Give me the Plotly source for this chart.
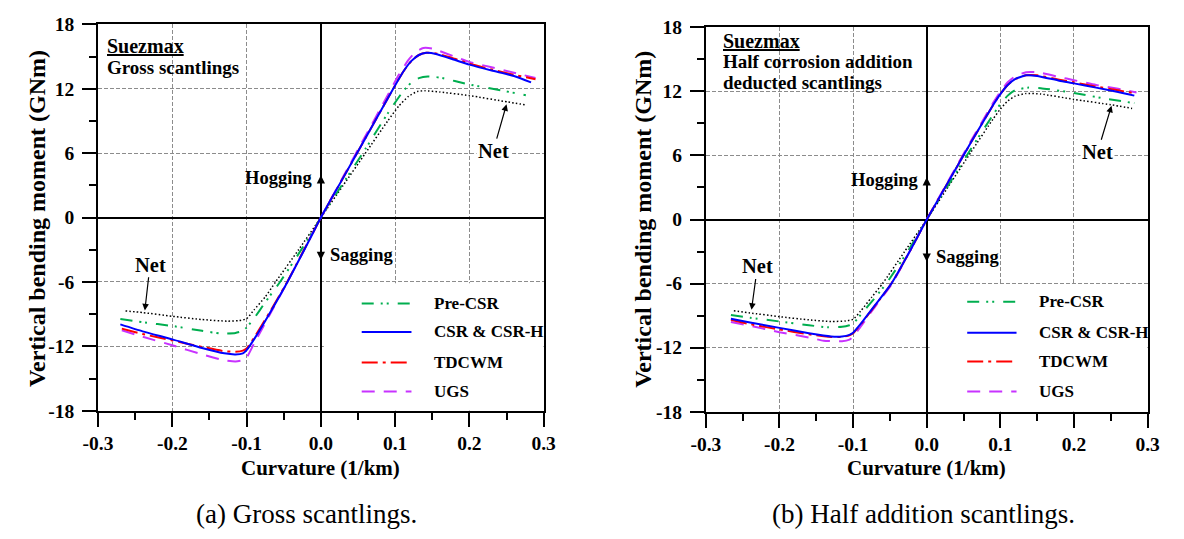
import plotly.graph_objects as go

# ---------------- axis ticks ----------------
x_ticks = [-0.3, -0.2, -0.1, 0.0, 0.1, 0.2, 0.3]
x_tick_labels = ["-0.3", "-0.2", "-0.1", "0.0", "0.1", "0.2", "0.3"]
y_ticks = [-18, -12, -6, 0, 6, 12, 18]
y_tick_labels = ["-18", "-12", "-6", "0", "6", "12", "18"]

series_names = ["Pre-CSR", "CSR & CSR-H", "TDCWM", "UGS"]

# ---------------- (a) gross scantlings: curvature (1/km) vs moment (GNm) ----------------
gross_precsr_k = [-0.270, -0.240, -0.200, -0.160, -0.135, -0.115, -0.105, -0.100, -0.090, -0.075, -0.055, -0.025,
                  0.000, 0.030, 0.060, 0.090, 0.110, 0.122, 0.132, 0.144, 0.160, 0.200, 0.243, 0.276]
gross_precsr_m = [-9.45, -9.75, -10.10, -10.55, -10.80, -10.75, -10.55, -10.25, -9.40, -7.90, -6.00, -2.85,
                  0.00, 3.20, 6.40, 9.70, 11.70, 12.60, 13.00, 13.15, 13.05, 12.40, 11.85, 11.40]

gross_csr_k = [-0.270, -0.240, -0.200, -0.160, -0.130, -0.115, -0.105, -0.100, -0.090, -0.070, -0.045, -0.020,
               0.000, 0.030, 0.060, 0.090, 0.110, 0.122, 0.132, 0.142, 0.155, 0.180, 0.200, 0.230, 0.260, 0.283]
gross_csr_m = [-9.95, -10.60, -11.35, -12.15, -12.65, -12.75, -12.65, -12.35, -11.35, -9.05, -6.00, -2.70,
               0.00, 3.70, 7.40, 11.10, 13.50, 14.60, 15.15, 15.35, 15.25, 14.70, 14.25, 13.70, 13.20, 12.60]

gross_tdcwm_k = [-0.268, -0.240, -0.200, -0.160, -0.130, -0.115, -0.105, -0.100, -0.090, -0.070, -0.045, -0.020,
                 0.000, 0.030, 0.060, 0.090, 0.110, 0.122, 0.132, 0.142, 0.155, 0.180, 0.200, 0.230, 0.260, 0.289]
gross_tdcwm_m = [-10.35, -10.85, -11.45, -12.05, -12.45, -12.50, -12.40, -12.20, -11.20, -8.95, -5.95, -2.65,
                 0.00, 3.70, 7.40, 11.10, 13.50, 14.60, 15.15, 15.35, 15.30, 14.80, 14.35, 13.80, 13.30, 12.90]

gross_ugs_k = [-0.268, -0.240, -0.200, -0.160, -0.130, -0.115, -0.105, -0.100, -0.090, -0.070, -0.045, -0.020,
               0.000, 0.030, 0.060, 0.090, 0.105, 0.118, 0.128, 0.138, 0.150, 0.180, 0.200, 0.230, 0.260, 0.289]
gross_ugs_m = [-10.50, -11.10, -11.90, -12.75, -13.30, -13.40, -13.30, -13.05, -11.75, -9.20, -6.00, -2.65,
               0.00, 3.80, 7.60, 11.40, 13.30, 14.70, 15.45, 15.80, 15.75, 15.00, 14.50, 14.00, 13.50, 13.00]

gross_net_k = [-0.263, -0.240, -0.200, -0.160, -0.126, -0.110, -0.100, -0.090, -0.075, -0.061, -0.030,
               0.000, 0.030, 0.060, 0.090, 0.105, 0.118, 0.130, 0.140, 0.160, 0.200, 0.252, 0.276]
gross_net_m = [-8.70, -8.85, -9.20, -9.50, -9.65, -9.60, -9.42, -8.60, -7.40, -6.00, -3.00,
               0.00, 3.00, 6.00, 9.00, 10.40, 11.30, 11.75, 11.82, 11.70, 11.37, 10.77, 10.50]

# ---------------- (b) half corrosion addition deducted scantlings ----------------
half_precsr_k = [-0.266, -0.240, -0.200, -0.160, -0.135, -0.115, -0.105, -0.100, -0.090, -0.070, -0.055, -0.025,
                 0.000, 0.030, 0.060, 0.090, 0.100, 0.110, 0.120, 0.137, 0.155, 0.200, 0.240, 0.282]
half_precsr_m = [-8.95, -9.20, -9.55, -9.90, -10.10, -10.05, -9.90, -9.75, -8.95, -7.30, -6.00, -2.90,
                 0.00, 3.30, 6.60, 9.80, 10.80, 11.60, 12.10, 12.35, 12.30, 11.85, 11.35, 10.90]

half_csr_k = [-0.266, -0.240, -0.200, -0.160, -0.130, -0.115, -0.105, -0.100, -0.090, -0.070, -0.048, -0.020,
              0.000, 0.030, 0.060, 0.090, 0.100, 0.110, 0.120, 0.135, 0.150, 0.180, 0.200, 0.230, 0.260, 0.282]
half_csr_m = [-9.30, -9.65, -10.15, -10.65, -10.95, -10.95, -10.80, -10.60, -9.80, -8.00, -6.00, -2.60,
              0.00, 3.60, 7.20, 10.70, 11.75, 12.60, 13.15, 13.50, 13.45, 13.00, 12.75, 12.35, 11.95, 11.60]

half_tdcwm_k = [-0.266, -0.240, -0.200, -0.160, -0.130, -0.115, -0.105, -0.100, -0.090, -0.070, -0.048, -0.020,
                0.000, 0.030, 0.060, 0.090, 0.100, 0.110, 0.120, 0.135, 0.150, 0.180, 0.200, 0.230, 0.260, 0.283]
half_tdcwm_m = [-9.40, -9.80, -10.30, -10.75, -11.00, -11.00, -10.85, -10.65, -9.85, -8.05, -6.00, -2.60,
                0.00, 3.60, 7.20, 10.70, 11.75, 12.60, 13.15, 13.50, 13.50, 13.10, 12.85, 12.45, 12.10, 11.80]

half_ugs_k = [-0.266, -0.240, -0.200, -0.160, -0.140, -0.115, -0.105, -0.100, -0.090, -0.070, -0.047, -0.020,
              0.000, 0.030, 0.060, 0.090, 0.100, 0.110, 0.120, 0.135, 0.150, 0.180, 0.200, 0.230, 0.260, 0.285]
half_ugs_m = [-9.60, -9.95, -10.55, -11.05, -11.35, -11.40, -11.25, -11.00, -10.05, -8.15, -6.00, -2.60,
              0.00, 3.70, 7.35, 10.90, 11.95, 12.85, 13.40, 13.80, 13.80, 13.35, 13.05, 12.60, 12.25, 11.90]

half_net_k = [-0.262, -0.240, -0.200, -0.160, -0.130, -0.110, -0.100, -0.090, -0.075, -0.060, -0.030,
              0.000, 0.030, 0.060, 0.090, 0.100, 0.110, 0.120, 0.135, 0.155, 0.200, 0.250, 0.279]
half_net_m = [-8.55, -8.75, -9.10, -9.40, -9.55, -9.50, -9.35, -8.60, -7.30, -6.00, -3.00,
              0.00, 3.15, 6.30, 9.40, 10.35, 11.10, 11.55, 11.80, 11.75, 11.25, 10.75, 10.40]

# ---------------- styling ----------------
SERIF = "Liberation Serif"
COLORS = {"Pre-CSR": "#00AE4F", "CSR & CSR-H": "#0000FF", "TDCWM": "#FF0000", "UGS": "#C832FF", "Net": "#000000"}
DASHES = {"Pre-CSR": "12px,7px,2px,4px,2px,9px", "CSR & CSR-H": "solid", "TDCWM": "16px,5px,3px,5px",
          "UGS": "13px,9px", "Net": "1.5px,2.2px"}
WIDTHS = {"Pre-CSR": 2, "CSR & CSR-H": 2, "TDCWM": 2, "UGS": 2, "Net": 1.5}

panels = [
    {
        "xa": "x", "ya": "y",
        "curves": {
            "Pre-CSR": (gross_precsr_k, gross_precsr_m),
            "CSR & CSR-H": (gross_csr_k, gross_csr_m),
            "TDCWM": (gross_tdcwm_k, gross_tdcwm_m),
            "UGS": (gross_ugs_k, gross_ugs_m),
            "Net": (gross_net_k, gross_net_m),
        },
        "title_lines": [("<u>Suezmax</u>", -0.290, 16.0, 20), ("Gross scantlings", -0.290, 14.0, 19)],
        "net_top": (0.250, 10.55, 0.232, 6.2),
        "net_bottom": (-0.237, -8.65, -0.230, -4.4),
        "legend_rows": [-8.0, -10.65, -13.5, -16.2],
        "xtitle": (313, 477), "ytitle": (22, 217),
    },
    {
        "xa": "x2", "ya": "y2",
        "curves": {
            "Pre-CSR": (half_precsr_k, half_precsr_m),
            "CSR & CSR-H": (half_csr_k, half_csr_m),
            "TDCWM": (half_tdcwm_k, half_tdcwm_m),
            "UGS": (half_ugs_k, half_ugs_m),
            "Net": (half_net_k, half_net_m),
        },
        "title_lines": [("<u>Suezmax</u>", -0.279, 16.7, 20), ("Half corrosion addition", -0.279, 14.8, 19),
                        ("deducted scantlings", -0.279, 12.8, 19)],
        "net_top": (0.251, 10.65, 0.232, 6.3),
        "net_bottom": (-0.238, -8.45, -0.230, -4.4),
        "legend_rows": [-7.7, -10.6, -13.3, -16.1],
        "xtitle": (933, 477), "ytitle": (642, 218),
    },
]

W, H = 1184, 539
fig = go.Figure()
annotations = []
shapes = []

for p in panels:
    for name in ["Net", "Pre-CSR", "UGS", "TDCWM", "CSR & CSR-H"]:
        k, m = p["curves"][name]
        fig.add_trace(go.Scatter(
            x=k, y=m, mode="lines", name=name, showlegend=False,
            line=dict(color=COLORS[name], dash=DASHES[name], width=WIDTHS[name], shape="spline", smoothing=0.5),
            xaxis=p["xa"], yaxis=p["ya"], hoverinfo="skip",
        ))

    xa, ya = p["xa"], p["ya"]
    # white panel behind the key, hides grid in the lower-right quadrant
    shapes.append(dict(type="rect", xref=xa, yref=ya, x0=0.004, x1=0.3, y0=-18, y1=-6.12,
                       fillcolor="white", line=dict(width=0), layer="between"))

    # key entries
    for name, yrow in zip(series_names, p["legend_rows"]):
        shapes.append(dict(type="line", xref=xa, yref=ya, x0=0.055, x1=0.122, y0=yrow, y1=yrow,
                           line=dict(color=COLORS[name], dash=DASHES[name], width=2)))
        annotations.append(dict(xref=xa, yref=ya, x=0.150, y=yrow, text=name, showarrow=False,
                                xanchor="left", yanchor="middle",
                                font=dict(family=SERIF, size=17, color="black", weight="bold")))

    # ship label
    for txt, tx, ty, fs in p["title_lines"]:
        annotations.append(dict(xref=xa, yref=ya, x=tx, y=ty, text=txt, showarrow=False,
                                xanchor="left", yanchor="middle",
                                font=dict(family=SERIF, size=fs, color="black", weight="bold")))

    # hogging / sagging arrows
    annotations.append(dict(xref=xa, yref=ya, x=0, y=3.95, ax=0, ay=2.4, axref=xa, ayref=ya, text="",
                            showarrow=True, arrowhead=2, arrowsize=1.1, arrowwidth=1.5, arrowcolor="black"))
    annotations.append(dict(xref=xa, yref=ya, x=0, y=-3.95, ax=0, ay=-2.4, axref=xa, ayref=ya, text="",
                            showarrow=True, arrowhead=2, arrowsize=1.1, arrowwidth=1.5, arrowcolor="black"))
    annotations.append(dict(xref=xa, yref=ya, x=-0.008, y=3.7, text="Hogging", showarrow=False,
                            xanchor="right", yanchor="middle",
                            font=dict(family=SERIF, size=18.5, color="black", weight="bold")))
    annotations.append(dict(xref=xa, yref=ya, x=0.010, y=-3.5, text="Sagging", showarrow=False,
                            xanchor="left", yanchor="middle",
                            font=dict(family=SERIF, size=18.5, color="black", weight="bold")))

    # "Net" pointers
    for hx, hy, tx, ty in (p["net_top"], p["net_bottom"]):
        annotations.append(dict(xref=xa, yref=ya, x=hx, y=hy, ax=tx, ay=ty, axref=xa, ayref=ya,
                                text="Net", showarrow=True, arrowhead=2, arrowsize=1.1, arrowwidth=1.2,
                                arrowcolor="black", bgcolor="white", borderpad=1,
                                font=dict(family=SERIF, size=20.5, color="black", weight="bold")))

    # axis titles
    xt, yt = p["xtitle"]
    annotations.append(dict(xref="paper", yref="paper", x=xt / W, y=1 - yt / H, text="Curvature (1/km)",
                            showarrow=False, xanchor="center", yanchor="middle",
                            font=dict(family=SERIF, size=21, color="black", weight="bold")))
    xt, yt = p["ytitle"]
    annotations.append(dict(xref="paper", yref="paper", x=xt / W, y=1 - yt / H,
                            text="Vertical bending moment (GNm)", textangle=-90,
                            showarrow=False, xanchor="center", yanchor="middle",
                            font=dict(family=SERIF, size=24, color="black", weight="bold")))

# captions
annotations.append(dict(xref="paper", yref="paper", x=298 / W, y=1 - 524 / H, text="(a) Gross scantlings.",
                        showarrow=False, xanchor="center", yanchor="middle",
                        font=dict(family=SERIF, size=27, color="black")))
annotations.append(dict(xref="paper", yref="paper", x=930 / W, y=1 - 524 / H, text="(b) Half addition scantlings.",
                        showarrow=False, xanchor="center", yanchor="middle",
                        font=dict(family=SERIF, size=27, color="black")))

tickfont = dict(family=SERIF, size=19.5, color="black", weight="bold")


def xaxis_cfg(domain, anchor):
    return dict(domain=domain, anchor=anchor, range=[-0.3, 0.3], tickmode="array",
                tickvals=x_ticks, ticktext=x_tick_labels, ticks="outside", ticklen=14, tickwidth=2,
                tickcolor="black", tickfont=tickfont, showline=True, linewidth=2, linecolor="black", mirror=True,
                showgrid=True, gridcolor="#8c8c8c", gridwidth=1, griddash="4px,2px",
                zeroline=True, zerolinecolor="black", zerolinewidth=2,
                minor=dict(dtick=0.05, tick0=0, ticks="outside", ticklen=7, tickwidth=2, tickcolor="black",
                           showgrid=False),
                fixedrange=True)


def yaxis_cfg(domain, anchor):
    return dict(domain=domain, anchor=anchor, range=[-18, 18], tickmode="array",
                tickvals=y_ticks, ticktext=y_tick_labels, ticks="outside", ticklen=14, tickwidth=2,
                tickcolor="black", tickfont=tickfont, showline=True, linewidth=2, linecolor="black", mirror=True,
                showgrid=True, gridcolor="#8c8c8c", gridwidth=1, griddash="4px,2px",
                zeroline=True, zerolinecolor="black", zerolinewidth=2, ticklabelstandoff=4,
                minor=dict(dtick=3, tick0=0, ticks="outside", ticklen=7, tickwidth=2, tickcolor="black",
                           showgrid=False),
                fixedrange=True)


fig.update_layout(
    width=W, height=H,
    margin=dict(l=0, r=0, t=0, b=0),
    paper_bgcolor="white", plot_bgcolor="white",
    showlegend=False,
    xaxis=xaxis_cfg([85 / W, 541 / W], "y"),
    yaxis=yaxis_cfg([1 - 417 / H, 1 - 15 / H], "x"),
    xaxis2=xaxis_cfg([707 / W, 1159 / W], "y2"),
    yaxis2=yaxis_cfg([1 - 418 / H, 1 - 18 / H], "x2"),
    annotations=annotations,
    shapes=shapes,
)

fig.write_html("out.html")
